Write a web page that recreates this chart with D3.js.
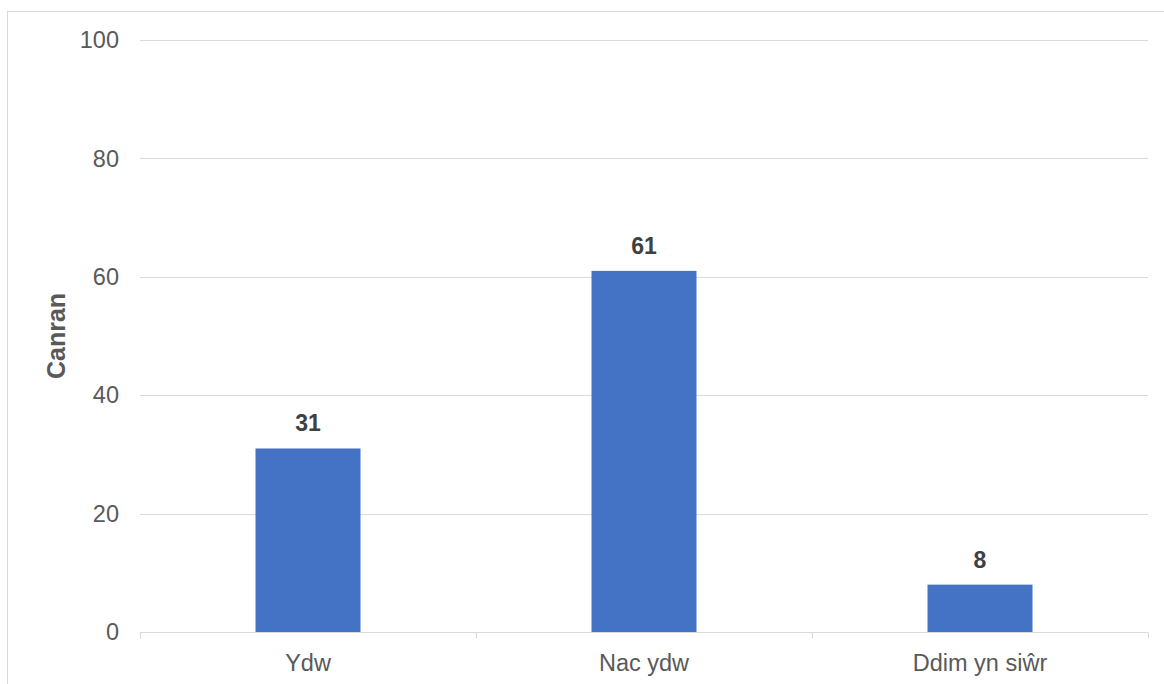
<!DOCTYPE html>
<html>
<head>
<meta charset="utf-8">
<script src="https://cdn.jsdelivr.net/npm/d3@7"></script>
<style>
  html, body { margin: 0; padding: 0; background: #fff; }
  svg { display: block; font-family: "Liberation Sans", Arial, sans-serif; }
</style>
</head>
<body>
<svg id="chart" width="1164" height="684"></svg>
<script>
const categories = ["Ydw", "Nac ydw", "Ddim yn siŵr"];
const values = [31, 61, 8];
const yTicks = [0, 20, 40, 60, 80, 100];
const yTitle = "Canran";

const svg = d3.select("#chart");
const W = 1164, H = 684;
const m = { left: 140, right: 16, top: 40, bottom: 52 };

// outer border
svg.append("rect")
  .attr("x", 7.5).attr("y", 11.5)
  .attr("width", W + 10).attr("height", H + 10)
  .attr("fill", "none").attr("stroke", "#d9d9d9").attr("stroke-width", 1);

const x = d3.scaleBand().domain(categories).range([m.left, W - m.right]).padding(0);
const y = d3.scaleLinear().domain([0, 100]).range([H - m.bottom, m.top]);

// gridlines
svg.append("g").selectAll("line").data(yTicks.filter(d => d > 0)).join("line")
  .attr("x1", m.left).attr("x2", W - m.right)
  .attr("y1", d => Math.round(y(d)) + 0.5).attr("y2", d => Math.round(y(d)) + 0.5)
  .attr("stroke", "#d9d9d9").attr("stroke-width", 1);

// y tick labels
svg.append("g").selectAll("text").data(yTicks).join("text")
  .attr("x", 119).attr("y", d => y(d))
  .attr("dy", "0.35em")
  .attr("text-anchor", "end")
  .attr("font-size", 23.5).attr("fill", "#595959")
  .text(d => d);

// bars
const barW = x.bandwidth() * 0.3125;
svg.append("g").selectAll("rect").data(values).join("rect")
  .attr("x", (d, i) => x(categories[i]) + (x.bandwidth() - barW) / 2)
  .attr("width", barW)
  .attr("y", d => y(d))
  .attr("height", d => y(0) - y(d))
  .attr("fill", "#4472C4");

// data labels
svg.append("g").selectAll("text").data(values).join("text")
  .attr("x", (d, i) => x(categories[i]) + x.bandwidth() / 2)
  .attr("y", d => y(d) - 17)
  .attr("text-anchor", "middle")
  .attr("font-size", 23).attr("font-weight", "bold").attr("fill", "#404040")
  .text(d => d);

// x axis
const gx = svg.append("g").attr("transform", `translate(0,${Math.round(y(0)) + 0.5})`);
gx.append("line").attr("x1", m.left).attr("x2", W - m.right)
  .attr("stroke", "#d9d9d9").attr("stroke-width", 1);
const bounds = [0, 1, 2, 3].map(i => m.left + i * x.step());
gx.selectAll("line.tick").data(bounds).join("line").attr("class", "tick")
  .attr("x1", d => Math.round(d) + 0.5).attr("x2", d => Math.round(d) + 0.5)
  .attr("y1", 0).attr("y2", 6)
  .attr("stroke", "#d9d9d9").attr("stroke-width", 1);
gx.selectAll("text").data(categories).join("text")
  .attr("x", d => x(d) + x.bandwidth() / 2)
  .attr("y", 30)
  .attr("dy", "0.35em")
  .attr("text-anchor", "middle")
  .attr("font-size", 23.5).attr("fill", "#595959")
  .text(d => d);

// y title
svg.append("text")
  .attr("transform", `translate(56,${(m.top + H - m.bottom) / 2}) rotate(-90)`)
  .attr("text-anchor", "middle").attr("dy", "0.35em")
  .attr("font-size", 25).attr("font-weight", "bold").attr("fill", "#595959")
  .text(yTitle);
</script>
</body>
</html>
